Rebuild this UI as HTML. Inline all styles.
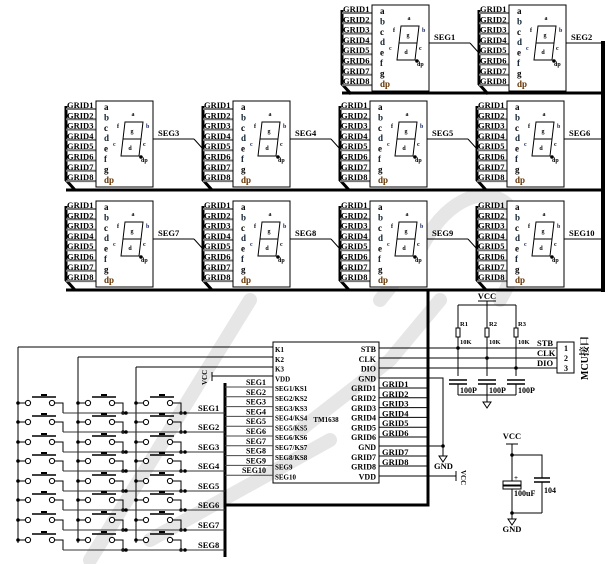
<!DOCTYPE html>
<html><head><meta charset="utf-8">
<style>
html,body{margin:0;padding:0;background:#fff;}
svg{display:block;font-family:"Liberation Serif",serif;font-weight:bold;}
</style></head>
<body>
<svg id="s" width="614" height="564" viewBox="0 0 614 564" xmlns="http://www.w3.org/2000/svg">
<g stroke="#e6e6e6" stroke-width="14" fill="none" stroke-linecap="round">
<path d="M90 560 L250 300"/>
<path d="M300 430 L390 360 L440 300"/>
<path d="M500 300 C560 200 470 150 420 250 L380 300"/>
<path d="M150 540 L330 440"/>
</g>
<g id="g"></g>
</svg>
<script>
var g=document.getElementById('g'),h='';
function L(x1,y1,x2,y2,w,c){h+='<line x1="'+x1+'" y1="'+y1+'" x2="'+x2+'" y2="'+y2+'" stroke="'+(c||'#000')+'" stroke-width="'+(w||1)+'"/>';}
function P(d,w,c){h+='<path d="'+d+'" fill="none" stroke="'+(c||'#000')+'" stroke-width="'+(w||1)+'"/>';}
function T(x,y,t,s,c,a,ex){h+='<text x="'+x+'" y="'+y+'" font-size="'+(s||9)+'" fill="'+(c||'#000')+'"'+(a?' text-anchor="'+a+'"':'')+(ex||'')+'>'+t+'</text>';}
function R(x,y,w,hh,f){h+='<rect x="'+x+'" y="'+y+'" width="'+w+'" height="'+hh+'" fill="'+(f||'none')+'" stroke="#000" stroke-width="1"/>';}
function D(x,y){h+='<circle cx="'+x+'" cy="'+y+'" r="1.8" fill="#000"/>';}
function C(x,y){h+='<circle cx="'+x+'" cy="'+y+'" r="2.6" fill="#fff" stroke="#000"/>';}
function mod(x,y,seg,last){
 P('M'+x+' '+(y+6)+' L'+x+' '+(y+80)+' L'+(x+9)+' '+(y+90),3);
 for(var i=0;i<8;i++){var yy=y+6+i*10.3;
  L(x,yy+3,x+30,yy+3,2,'#777');
  T(x+1,yy+2,'GRID'+(i+1),8.5);}
 R(x+30,y+1,57,86,'#fff');
 var lt=['a','b','c','d','e','f','g','dp'];
 for(i=0;i<8;i++)T(x+38,y+10+i*10.4,lt[i],9,i==7?'#630':(i%2?'#123':'#000'));
 var bx=x+55,by=y+22;
 P('M'+(bx+4)+' '+by+' L'+(bx+22)+' '+by+' L'+(bx+20)+' '+(by+17)+' L'+(bx+2)+' '+(by+17)+' Z M'+(bx+2)+' '+(by+17)+' L'+bx+' '+(by+34)+' L'+(bx+18)+' '+(by+34)+' L'+(bx+20)+' '+(by+17),1);
 T(bx+12,by-6,'a',6,'#000','middle');T(bx+25,by+6,'b',6,'#125');T(bx-4,by+6,'f',6);
 T(bx+11,by+11,'g',6,'#000','middle');T(bx-8,by+24,'c',6,'#125');T(bx+22,by+24,'c',6);
 T(bx+9,by+28,'d',6,'#000','middle');T(bx+20,by+40,'dp',6);D(bx+20,by+35);
 if(last){L(x+87,y+39,603,y+39);T(x+92,y+36,seg,8.5);}
 else{L(x+87,y+39,x+128,y+39);L(x+128,y+39,x+137,y+49);T(x+92,y+36,seg,8.5);}
}
mod(342,4,'SEG1');mod(479,4,'SEG2',1);
P('M342 93 L604 93',3);
mod(66,100,'SEG3');mod(203,100,'SEG4');mod(340,100,'SEG5');mod(477,100,'SEG6',1);
P('M66 190 L604 190',3);
mod(66,200,'SEG7');mod(203,200,'SEG8');mod(340,200,'SEG9');mod(477,200,'SEG10',1);
P('M66 290 L604 290',3);
P('M428 290 L428 505 L225 505',3);
P('M225 383 L225 557',3);
R(273,342,106,141);
var lp=['K1','K2','K3','VDD','SEG1/KS1','SEG2/KS2','SEG3/KS3','SEG4/KS4','SEG5/KS5','SEG6/KS6','SEG7/KS7','SEG8/KS8','SEG9','SEG10'];
for(var i=0;i<14;i++){var yy=349+i*9.8;T(275,yy+3,lp[i],7);}
var rp=['STB','CLK','DIO','GND','GRID1','GRID2','GRID3','GRID4','GRID5','GRID6','GND','GRID7','GRID8','VDD'];
for(i=0;i<14;i++){var yy=349+i*9.8;T(376,yy+3,rp[i],8,'#000','end');}
T(326,422,'TM1638',7,'#000','middle');
L(18,347,273,347);L(78,357,273,357);L(136,367,273,367);
L(212,376,273,376);L(212,372,212,381);T(207,385,'VCC',7,'#000','',' transform="rotate(-90 207 385)"');
for(i=0;i<10;i++){var yy=384+i*9.8;L(225,yy+3,273,yy+3,1,'#444');T(266,yy+1,'SEG'+(i+1),8,'#000','end');}
var ry=[403,422,442,461,481,500,520,540];var cx=[18,78,136];
L(18,347,18,543);L(78,357,78,543);L(136,367,136,543);
for(var r=0;r<8;r++){var y=ry[r];
 for(var c=0;c<3;c++){var x=cx[c];D(x,y);L(x,y,x+7,y);C(x+10,y);C(x+34,y);
  L(x+14,y-6,x+38,y-6,1.5);L(x+23,y-8,x+29,y-8,2);
  P('M'+(x+37)+' '+y+' L'+(x+45)+' '+y+' L'+(x+45)+' '+(y+10));
  if(c>0)D(x+45,y+10);}
 var ly=y+10;L(63,ly,225,ly,1,'#333');D(126,ly);D(185,ly);
 T(198,ly-2,'SEG'+(r+1),8.5);}
for(i=0;i<6;i++){var yy=388+i*9.8;L(379,yy,428,yy);T(382,yy-1,'GRID'+(i+1),8.5);}
L(379,456,428,456);T(382,455,'GRID7',8.5);L(379,466,428,466);T(382,465,'GRID8',8.5);
P('M379 378 L443 378 L443 446');L(379,446,443,446);D(443,446);P('M443 446 L443 456');
P('M439 456 L447 456 L443 462 Z');T(434,469,'GND',8.5);
L(379,476,456,476);L(456,471,456,481);T(461,470,'VCC',7,'#000','',' transform="rotate(90 461 470)"');
L(379,348,557,348);L(379,358,557,358);L(379,368,557,368);
T(537,346,'STB',8.5);T(537,356,'CLK',8.5);T(537,366,'DIO',8.5);
R(557,342,17,31);T(566,351,'1',8,'#000','middle');T(566,361,'2',8,'#000','middle');T(566,371,'3',8,'#000','middle');
T(588,380,'MCU接口',10,'#000','',' font-family="Liberation Serif,Noto Serif CJK SC,serif" transform="rotate(-90 588 380)"');
T(487,299,'VCC',8.5,'#000','middle');L(478,301,496,301);
P('M458 305 L516 305');L(487,301,487,305);
var rx=[458,487,516];var rl=['R1','R2','R3'];var ly2=[348,358,368];
for(i=0;i<3;i++){var x=rx[i];L(x,305,x,328);R(x-2,328,4,9,'#fff');L(x,337,x,376);
 T(x+2,326,rl[i],6.5);T(x+2,344,'10K',6.5);D(x,ly2[i]);
 L(x-9,380,x+9,380,1.5);L(x-9,384,x+9,384,1.5);L(x,384,x,395);T(x+2,393,'100P',8);}
L(458,395,516,395);L(487,395,487,402);P('M483 402 L491 402 L487 408 Z');
T(512,439,'VCC',8.5,'#000','middle');L(506,444,518,444);L(512,444,512,455);D(512,455);
P('M512 455 L542 455 L542 478');L(534,478,550,478,1.5);L(534,482,550,482,1.5);T(544,493,'104',8);
L(542,482,542,513);R(503,481,18,4);R(503,486,18,3);T(514,480,'+',7);L(512,455,512,481);
L(512,489,512,513);D(512,513);L(512,513,542,513);T(514,496,'100uF',8);
L(512,513,512,519);P('M508 519 L516 519 L512 525 Z');T(512,532,'GND',8.5,'#000','middle');
h+='<rect x="601" y="41" width="4" height="251" fill="#000"/>';
g.innerHTML=h;
</script>
</body></html>
